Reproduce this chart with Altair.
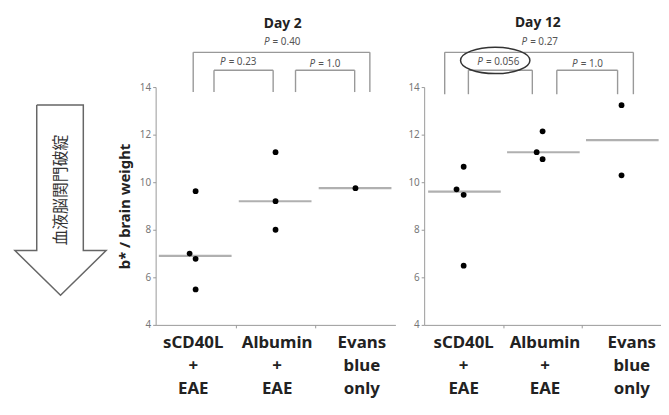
import altair as alt
import pandas as pd

# ---------------- data ----------------
groups = ["sCD40L + EAE", "Albumin + EAE", "Evans blue only"]
group_labels = ["sCD40L\n+\nEAE", "Albumin\n+\nEAE", "Evans\nblue\nonly"]

day2_group = [0, 0, 0, 0, 1, 1, 1, 2]
day2_value = [9.62, 7.00, 6.78, 5.49, 11.26, 9.20, 8.00, 9.75]
day2_median = [6.90, 9.20, 9.75]
day2_p = ["0.40", "0.23", "1.0"]

day12_group = [0, 0, 0, 0, 1, 1, 1, 2, 2]
day12_value = [10.65, 9.70, 9.47, 6.49, 12.14, 11.26, 10.97, 13.24, 10.29]
day12_median = [9.60, 11.26, 11.77]
day12_p = ["0.27", "0.056", "1.0"]

y_ticks = [4, 6, 8, 10, 12, 14]
arrow_text = "血液脳関門破綻"
y_title = "b* / brain weight"

# ---------------- layout helpers ----------------
FONT = "Noto Sans"
H = 240
day2_jitter = [0, -0.075, 0, 0, 0, 0, 0, 0]
day12_jitter = [0, -0.09, 0, 0, 0, -0.075, 0, 0, 0]


def panel(title, grp, vals, jit, med, pvals, width, layout, show_title):
    xs = alt.Scale(domain=[0, 3], nice=False, zero=False)
    ys = alt.Scale(domain=[4, 14], nice=False, zero=False)
    yaxis = alt.Axis(values=y_ticks, grid=False, tickSize=3, tickColor="#999",
                     domainColor="#999", labelColor="#777", labelFontSize=10,
                     labelFont=FONT, labelPadding=2,
                     title=y_title if show_title else None,
                     titleFont=FONT, titleFontSize=15, titleFontWeight="bold",
                     titleColor="#222", titlePadding=7)
    xaxis = alt.Axis(values=[1, 2], grid=False, labels=False, tickSize=3,
                     tickColor="#999", domainColor="#999", title=None)

    pts = pd.DataFrame({"x": [g + 0.5 + j for g, j in zip(grp, jit)], "y": vals})
    points = alt.Chart(pts).mark_circle(size=34, color="black", opacity=1).encode(
        x=alt.X("x:Q", scale=xs, axis=xaxis),
        y=alt.Y("y:Q", scale=ys, axis=yaxis),
    )

    mdf = pd.DataFrame({"x": [i + 0.5 - layout["mhalf"][0] for i in range(3)],
                        "x2": [i + 0.5 + layout["mhalf"][1] for i in range(3)],
                        "y": med})
    medians = alt.Chart(mdf).mark_rule(color="#b0b0b0", strokeWidth=2.2).encode(
        x=alt.X("x:Q", scale=xs), x2="x2:Q", y=alt.Y("y:Q", scale=ys))

    segs = []
    for (xl, xr, yt, yb) in layout["brackets"]:
        segs.append({"x": xl, "x2": xr, "y": yt, "y2": yt})
        segs.append({"x": xl, "x2": xl, "y": yt, "y2": yb})
        segs.append({"x": xr, "x2": xr, "y": yt, "y2": yb})
    brackets = alt.Chart(pd.DataFrame(segs)).mark_rule(color="#999", strokeWidth=1.4).encode(
        x=alt.X("x:Q", scale=xs), x2="x2:Q",
        y=alt.Y("y:Q", scale=ys), y2="y2:Q")

    pdf = pd.DataFrame({"t": ["= " + v for v in pvals], "p": ["P"] * 3,
                        "x": layout["px"], "y": layout["py"]})
    p_it = alt.Chart(pdf).mark_text(font=FONT, fontSize=10, fontStyle="italic",
                                    color="#555", align="right", dx=-10).encode(
        x=alt.X("x:Q", scale=xs), y=alt.Y("y:Q", scale=ys), text="p:N")
    p_rest = alt.Chart(pdf).mark_text(font=FONT, fontSize=10, color="#555",
                                      align="left", dx=-7).encode(
        x=alt.X("x:Q", scale=xs), y=alt.Y("y:Q", scale=ys), text="t:N")

    tdf = pd.DataFrame({"t": [title], "x": [layout["tx"]], "y": [layout["ty"]]})
    ttl = alt.Chart(tdf).mark_text(font=FONT, fontSize=14, fontWeight="bold",
                                   color="#222").encode(
        x=alt.X("x:Q", scale=xs), y=alt.Y("y:Q", scale=ys), text="t:N")

    ldf = pd.DataFrame({"t": group_labels, "x": layout["lx"], "y": [3.55] * 3})
    labs = alt.Chart(ldf).mark_text(font=FONT, fontSize=17, fontWeight="bold",
                                    color="#222", baseline="top", lineBreak="\n",
                                    lineHeight=23).encode(
        x=alt.X("x:Q", scale=xs), y=alt.Y("y:Q", scale=ys), text="t:N")

    layers = [brackets, medians, points, p_it, p_rest, ttl, labs]
    if "ellipse" in layout:
        ex, ey = layout["ellipse"]
        edf = pd.DataFrame({"x": [ex], "y": [ey]})
        ell = alt.Chart(edf).mark_point(
            shape="M-1,0A1,0.38,0,1,1,1,0A1,0.38,0,1,1,-1,0Z",
            size=4900, filled=False, color="#333", strokeWidth=1.5, opacity=1
        ).encode(x=alt.X("x:Q", scale=xs), y=alt.Y("y:Q", scale=ys))
        layers.append(ell)
    return alt.layer(*layers).properties(width=width, height=H)


layout2 = dict(
    mhalf=(0.46, 0.45),
    brackets=[(0.47, 2.68, 15.46, 13.79), (0.73, 1.47, 14.71, 13.79),
              (1.75, 2.49, 14.71, 13.79)],
    px=[1.55, 1.0, 2.12], py=[15.875, 15.04, 14.96],
    tx=1.59, ty=16.63,
    lx=[0.47, 1.52, 2.58],
)
layout12 = dict(
    mhalf=(0.45, 0.47),
    brackets=[(0.26, 2.65, 15.46, 13.7), (0.56, 1.37, 14.71, 13.7),
              (1.68, 2.45, 14.71, 13.7)],
    px=[1.43, 0.87, 2.07], py=[15.875, 15.04, 14.96],
    tx=1.44, ty=16.71,
    lx=[0.5, 1.53, 2.63],
    ellipse=(0.9, 15.12),
)

p2 = panel("Day 2", day2_group, day2_value, day2_jitter, day2_median, day2_p,
           242, layout2, True)
p12 = panel("Day 12", day12_group, day12_value, day12_jitter, day12_median, day12_p,
            239, layout12, False)

# ---------------- arrow (decorative shape) ----------------
arrow_x = [29, 29, 7, 53, 99, 76, 76, 29]
arrow_y = [103, 250, 250, 295, 250, 250, 103, 103]
adf = pd.DataFrame({"x": arrow_x, "y": arrow_y, "o": list(range(len(arrow_x)))})
axs = alt.Scale(domain=[0, 120], nice=False, zero=False)
ays = alt.Scale(domain=[85, 325], reverse=True, nice=False, zero=False)
arrow_line = alt.Chart(adf).mark_line(color="#666", strokeWidth=1.5).encode(
    x=alt.X("x:Q", scale=axs, axis=None),
    y=alt.Y("y:Q", scale=ays, axis=None),
    order="o:Q")
arrow_lab = alt.Chart(pd.DataFrame({"t": [arrow_text], "x": [54], "y": [189]})).mark_text(
    font="Noto Sans CJK JP", fontSize=16, angle=270, color="#333").encode(
    x=alt.X("x:Q", scale=axs, axis=None),
    y=alt.Y("y:Q", scale=ays, axis=None), text="t:N")
arrow = alt.layer(arrow_line, arrow_lab).properties(width=120, height=H)

chart = alt.hconcat(arrow, p2, p12, spacing=29, bounds="flush").properties(
    padding={"left": 0, "top": 5, "right": 0, "bottom": 0},
    background="white",
).configure_view(strokeWidth=0)

chart.save("out.html", embed_options={"renderer": "svg", "actions": False})
